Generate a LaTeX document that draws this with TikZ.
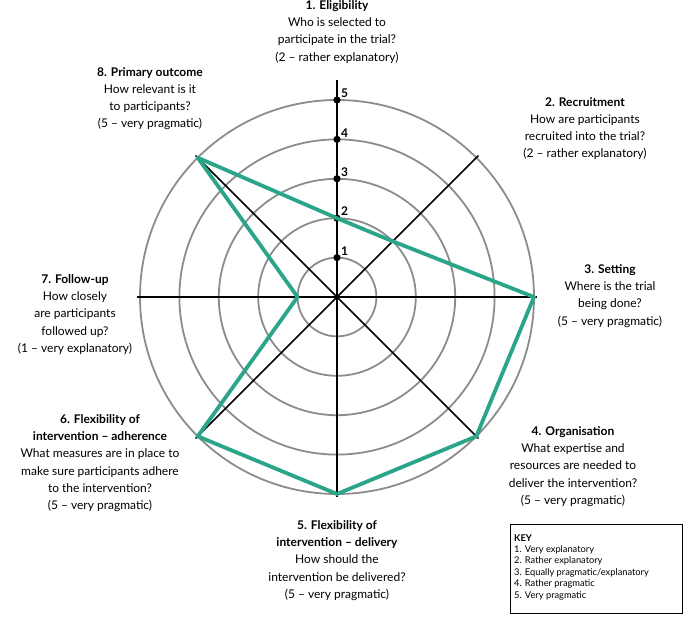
\documentclass[tikz,border=0pt]{standalone}
\usepackage{fontspec}
\setmainfont{Lato}
\definecolor{radargreen}{HTML}{2BA58A}
\tikzset{
  ring/.style={draw=black!45, line width=1.8pt},
  axis/.style={line width=1.6pt},
  lbl/.style={align=center, font=\fontsize{12}{17.3}\selectfont, inner sep=0pt},
  keytext/.style={anchor=west, font=\fontsize{9.3}{11}\selectfont, inner sep=0pt}
}
\begin{document}
\begin{tikzpicture}[x=1pt,y=1pt]
\def\u{39.4}
\useasboundingbox (-337,-323) rectangle (348,297);
\coordinate (c) at (0,0);
% rings
\foreach \r in {1,...,5}
  \draw[ring] (c) circle (\r*\u);
% axes
\coordinate (a1) at (90:217);
\foreach \n/\ang in {2/45,3/0,4/-45,5/-90,6/-135,7/180,8/135}
  \coordinate (a\n) at (\ang:200);
\foreach \n in {1,...,8}
  \draw[axis] (c) -- (a\n);
% scale marks
\foreach \r in {1,...,5}{
  \fill (0,\r*\u) circle (3.6);
  \node[anchor=south west, font=\bfseries\fontsize{12}{12}\selectfont, inner sep=1pt] (m\r) at (3,\r*\u+1) {\r};
}
% values
\foreach \n/\ang/\v in {1/90/2,2/45/2,3/0/5,4/-45/5,5/-90/5,6/-135/5,7/180/1,8/135/5}
  \coordinate (v\n) at (\ang:\v*\u);
\draw[radargreen, line width=3.8pt, line join=round]
  (v1) -- (v2) -- (v3) -- (v4) -- (v5) -- (v6) -- (v7) -- (v8) -- cycle;
% labels
\node[lbl, anchor=north] (l1) at (0,297) {\textbf{1. Eligibility}\\Who is selected to\\participate in the trial?\\(2 -- rather explanatory)};
\node[lbl, anchor=north] (l2) at (248,200) {\textbf{2. Recruitment}\\How are participants\\recruited into the trial?\\(2 -- rather explanatory)};
\node[lbl, anchor=north] (l3) at (273,33) {\textbf{3. Setting}\\Where is the trial\\being done?\\(5 -- very pragmatic)};
\node[lbl, anchor=north] (l4) at (236,-129) {\textbf{4. Organisation}\\What expertise and\\resources are needed to\\deliver the intervention?\\(5 -- very pragmatic)};
\node[lbl, anchor=north] (l5) at (0,-223) {\textbf{5. Flexibility of}\\\textbf{intervention -- delivery}\\How should the\\intervention be delivered?\\(5 -- very pragmatic)};
\node[lbl, anchor=north] (l6) at (-237,-117) {\textbf{6. Flexibility of}\\\textbf{intervention -- adherence}\\What measures are in place to\\make sure participants adhere\\to the intervention?\\(5 -- very pragmatic)};
\node[lbl, anchor=north] (l7) at (-262,23) {\textbf{7. Follow-up}\\How closely\\are participants\\followed up?\\(1 -- very explanatory)};
\node[lbl, anchor=north] (l8) at (-187,230) {\textbf{8. Primary outcome}\\How relevant is it\\to participants?\\(5 -- very pragmatic)};
% key
\draw[line width=1pt] (173,-228) rectangle (345,-316);
\node[keytext, font=\bfseries\fontsize{9.3}{11}\selectfont] (k0) at (177,-241) {KEY};
\foreach \t [count=\i] in {Very explanatory,Rather explanatory,Equally pragmatic/explanatory,Rather pragmatic,Very pragmatic}
  \node[keytext] (k\i) at (177,-241-\i*11.6) {\i. \t};
\end{tikzpicture}
\end{document}
